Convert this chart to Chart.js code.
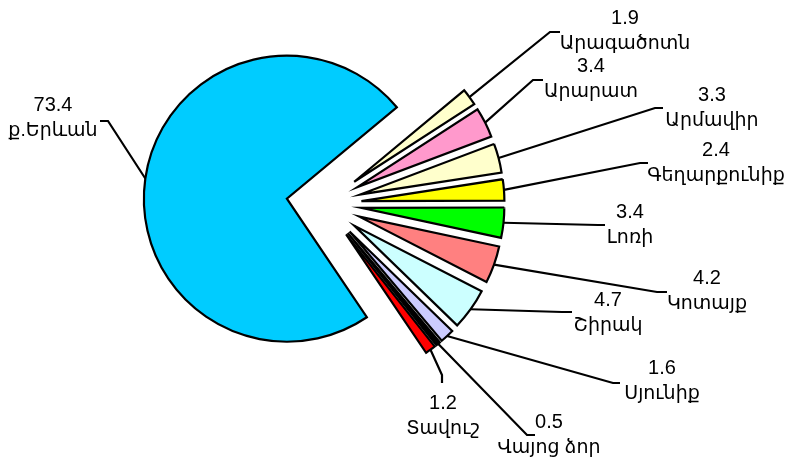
<!DOCTYPE html>
<html>
<head>
<meta charset="utf-8">
<script src="https://cdn.jsdelivr.net/npm/chart.js@4.4.1/dist/chart.umd.min.js"></script>
<style>
  html, body { margin: 0; padding: 0; background: #fff; }
  #wrap { position: relative; width: 787px; height: 461px; }
</style>
</head>
<body>
<div id="wrap"><canvas id="pie"></canvas></div>
<script>
// data
const regions = ['ք.Երևան', 'Արագածոտն', 'Արարատ', 'Արմավիր', 'Գեղարքունիք', 'Լոռի', 'Կոտայք', 'Շիրակ', 'Սյունիք', 'Վայոց ձոր', 'Տավուշ'];
const shares = [73.4, 1.9, 3.4, 3.3, 2.4, 3.4, 4.2, 4.7, 1.6, 0.5, 1.2];
const sliceColors = ['#00CCFF', '#FFFFCC', '#FF99CC', '#FFFFCC', '#FFFF00', '#00FF00', '#FF8080', '#CCFFFF', '#CCCCFF', '#000000', '#FF0000'];

// where each label sits: text centre, leader elbow and leader end
const labelPos = [
    { x: 53,  y: 105, elbow: [108, 121], end: [100, 121] },
    { x: 625, y: 18,  elbow: [550, 32],  end: [560, 32] },
    { x: 591, y: 66,  elbow: [533, 80],  end: [543, 80] },
    { x: 712, y: 95,  elbow: [655, 108], end: [663, 108] },
    { x: 716, y: 150, elbow: [640, 163], end: [648, 163] },
    { x: 630, y: 212, elbow: [598, 225], end: [605, 225] },
    { x: 707, y: 278, elbow: [657, 292], end: [667, 292] },
    { x: 608, y: 300, elbow: [562, 312], end: [572, 312] },
    { x: 662, y: 368, elbow: [613, 383], end: [620, 383] },
    { x: 549, y: 422, elbow: [527, 435], end: [535, 435] },
    { x: 443, y: 403, elbow: [442, 375], end: [442, 383] }
];

const EXPLODE = 37.5; // every slice pulled out along its middle
const VALUE_FONT = '20px "Liberation Sans", Arial, sans-serif';
const NAME_FONT = '19px "Liberation Sans", Arial, "DejaVu Sans", sans-serif';

// draw slices shifted outwards without growing their radius
const explodePlugin = {
    id: 'explode',
    beforeDatasetDraw(chart, args){
        const ctx = chart.ctx;
        args.meta.data.forEach(arc => {
            const mid = (arc.startAngle + arc.endAngle) / 2;
            ctx.save();
            ctx.translate(Math.cos(mid) * EXPLODE, Math.sin(mid) * EXPLODE);
            arc.draw(ctx);
            ctx.restore();
        });
        return false;
    }
};

// value + name labels with leader lines
const labelPlugin = {
    id: 'leaderLabels',
    afterDatasetsDraw(chart){
        const ctx = chart.ctx;
        const meta = chart.getDatasetMeta(0);
        ctx.save();
        ctx.strokeStyle = '#000';
        ctx.lineWidth = 2.2;
        ctx.lineJoin = 'miter';
        meta.data.forEach((arc, i) => {
            const p = labelPos[i];
            const mid = (arc.startAngle + arc.endAngle) / 2;
            const r = arc.outerRadius + EXPLODE;
            const sx = arc.x + Math.cos(mid) * r;
            const sy = arc.y + Math.sin(mid) * r;
            ctx.beginPath();
            ctx.moveTo(sx, sy);
            ctx.lineTo(p.elbow[0], p.elbow[1]);
            ctx.lineTo(p.end[0], p.end[1]);
            ctx.stroke();

            ctx.fillStyle = '#000';
            ctx.textAlign = 'center';
            ctx.textBaseline = 'middle';
            ctx.font = VALUE_FONT;
            ctx.fillText(shares[i].toFixed(1), p.x, p.y);
            ctx.font = NAME_FONT;
            ctx.fillText(regions[i], p.x, p.y + 26);
        });
        ctx.restore();
    }
};

new Chart(document.getElementById('pie'), {
    type: 'pie',
    data: {
        labels: regions,
        datasets: [{
            data: shares,
            backgroundColor: sliceColors,
            borderColor: '#000',
            borderWidth: 2.2,
            borderJoinStyle: 'miter',
            offset: 0
        }]
    },
    options: {
        responsive: true,
        maintainAspectRatio: false,
        animation: false,
        events: [],
        rotation: 146,
        radius: 143,
        layout: { padding: { left: 0, top: 0, right: 139, bottom: 53 } },
        plugins: {
            legend: { display: false },
            tooltip: { enabled: false }
        }
    },
    plugins: [explodePlugin, labelPlugin]
});
</script>
</body>
</html>
